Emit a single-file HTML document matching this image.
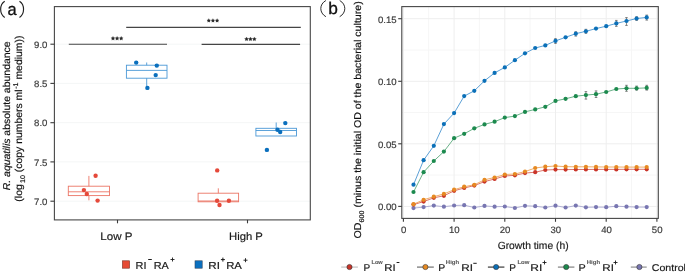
<!DOCTYPE html>
<html><head><meta charset="utf-8"><title>Figure</title>
<style>
html,body{margin:0;padding:0;background:#fff;}
body{width:685px;height:272px;overflow:hidden;}
svg{display:block;font-family:"Liberation Sans",sans-serif;text-rendering:geometricPrecision;will-change:transform;}
</style></head><body>
<svg width="685" height="272" viewBox="0 0 685 272">
<rect width="685" height="272" fill="#fff"/>

<line x1="54.4" x2="310.3" y1="201.2" y2="201.2" stroke="#f4f6f6" stroke-width="1"/>
<line x1="54.4" x2="310.3" y1="161.9" y2="161.9" stroke="#f4f6f6" stroke-width="1"/>
<line x1="54.4" x2="310.3" y1="122.7" y2="122.7" stroke="#f4f6f6" stroke-width="1"/>
<line x1="54.4" x2="310.3" y1="83.4" y2="83.4" stroke="#f4f6f6" stroke-width="1"/>
<line x1="54.4" x2="310.3" y1="44.2" y2="44.2" stroke="#f4f6f6" stroke-width="1"/>
<g stroke="#454545" stroke-width="1.1">
<line x1="68.8" x2="167" y1="44.2" y2="44.2"/>
<line x1="201.6" x2="300.1" y1="44.4" y2="44.4"/>
<line x1="126.2" x2="300.8" y1="27.4" y2="27.4"/>
</g>
<polygon points="113.00,36.35 113.68,37.52 114.99,37.80 114.09,38.81 114.23,40.15 113.00,39.60 111.76,40.15 111.90,38.81 111.00,37.80 112.32,37.52" fill="#2a2a2a" stroke="#2a2a2a" stroke-width="0.15" stroke-linejoin="round"/><polygon points="117.10,36.35 117.78,37.52 119.10,37.80 118.20,38.81 118.33,40.15 117.10,39.60 115.87,40.15 116.00,38.81 115.10,37.80 116.42,37.52" fill="#2a2a2a" stroke="#2a2a2a" stroke-width="0.15" stroke-linejoin="round"/><polygon points="121.20,36.35 121.88,37.52 123.20,37.80 122.30,38.81 122.44,40.15 121.20,39.60 119.97,40.15 120.11,38.81 119.21,37.80 120.52,37.52" fill="#2a2a2a" stroke="#2a2a2a" stroke-width="0.15" stroke-linejoin="round"/>
<polygon points="246.55,36.95 247.25,38.15 248.60,38.44 247.68,39.47 247.82,40.85 246.55,40.29 245.28,40.85 245.42,39.47 244.50,38.44 245.85,38.15" fill="#2a2a2a" stroke="#2a2a2a" stroke-width="0.15" stroke-linejoin="round"/><polygon points="250.45,36.95 251.15,38.15 252.50,38.44 251.58,39.47 251.72,40.85 250.45,40.29 249.18,40.85 249.32,39.47 248.40,38.44 249.75,38.15" fill="#2a2a2a" stroke="#2a2a2a" stroke-width="0.15" stroke-linejoin="round"/><polygon points="254.35,36.95 255.05,38.15 256.40,38.44 255.48,39.47 255.62,40.85 254.35,40.29 253.08,40.85 253.22,39.47 252.30,38.44 253.65,38.15" fill="#2a2a2a" stroke="#2a2a2a" stroke-width="0.15" stroke-linejoin="round"/>
<polygon points="208.79,18.55 209.43,19.65 210.68,19.92 209.83,20.88 209.96,22.15 208.79,21.63 207.62,22.15 207.75,20.88 206.90,19.92 208.15,19.65" fill="#2a2a2a" stroke="#2a2a2a" stroke-width="0.15" stroke-linejoin="round"/><polygon points="212.95,18.55 213.59,19.65 214.84,19.92 213.99,20.88 214.12,22.15 212.95,21.63 211.78,22.15 211.91,20.88 211.06,19.92 212.31,19.65" fill="#2a2a2a" stroke="#2a2a2a" stroke-width="0.15" stroke-linejoin="round"/><polygon points="217.11,18.55 217.75,19.65 219.00,19.92 218.15,20.88 218.28,22.15 217.11,21.63 215.94,22.15 216.07,20.88 215.22,19.92 216.47,19.65" fill="#2a2a2a" stroke="#2a2a2a" stroke-width="0.15" stroke-linejoin="round"/>
<g stroke="#ec7565" stroke-width="0.9" fill="none"><rect x="68.3" y="186.2" width="41.2" height="9.4"/><line x1="68.3" x2="109.5" y1="191.8" y2="191.8"/><line x1="88.9" x2="88.9" y1="175.9" y2="186.2"/><line x1="88.9" x2="88.9" y1="195.6" y2="200.3"/></g>
<g stroke="#4b98d6" stroke-width="0.9" fill="none"><rect x="126.4" y="65.2" width="40.6" height="13.0"/><line x1="126.4" x2="167.0" y1="70.4" y2="70.4"/><line x1="146.7" x2="146.7" y1="62.5" y2="65.2"/><line x1="146.7" x2="146.7" y1="78.2" y2="86.6"/></g>
<g stroke="#ec7565" stroke-width="0.9" fill="none"><rect x="198.1" y="193.2" width="40.5" height="8.6"/><line x1="198.1" x2="238.6" y1="201.0" y2="201.0"/><line x1="218.3" x2="218.3" y1="188.3" y2="193.2"/></g>
<g stroke="#4b98d6" stroke-width="0.9" fill="none"><rect x="255.9" y="128.3" width="40.6" height="7.7"/><line x1="255.9" x2="296.5" y1="130.5" y2="130.5"/><line x1="276.2" x2="276.2" y1="122.5" y2="128.3"/></g>
<g fill="#e5493a">
<circle cx="95.6" cy="175.8" r="2.2"/>
<circle cx="83.9" cy="190.1" r="2.2"/>
<circle cx="86.8" cy="194.0" r="2.2"/>
<circle cx="97.6" cy="200.6" r="2.2"/>
<circle cx="217.2" cy="170.4" r="2.2"/>
<circle cx="217.1" cy="200.7" r="2.2"/>
<circle cx="228.9" cy="200.7" r="2.2"/>
<circle cx="219.5" cy="205.0" r="2.2"/>
</g>
<g fill="#0a6fbd">
<circle cx="136.2" cy="62.6" r="2.2"/>
<circle cx="156.8" cy="65.6" r="2.2"/>
<circle cx="155.7" cy="75.1" r="2.2"/>
<circle cx="147.4" cy="87.9" r="2.2"/>
<circle cx="285.3" cy="123.1" r="2.2"/>
<circle cx="277.5" cy="129.8" r="2.2"/>
<circle cx="280.2" cy="132.0" r="2.2"/>
<circle cx="266.9" cy="149.9" r="2.2"/>
</g>
<rect x="54.4" y="6.6" width="255.9" height="213.3" fill="none" stroke="#474747" stroke-width="1.1"/>
<g stroke="#3a3a3a" stroke-width="1.1">
<line x1="50.4" x2="54.4" y1="201.2" y2="201.2"/>
<line x1="50.4" x2="54.4" y1="161.9" y2="161.9"/>
<line x1="50.4" x2="54.4" y1="122.7" y2="122.7"/>
<line x1="50.4" x2="54.4" y1="83.4" y2="83.4"/>
<line x1="50.4" x2="54.4" y1="44.2" y2="44.2"/>
<line x1="117.5" x2="117.5" y1="219.9" y2="223.3"/>
<line x1="247.5" x2="247.5" y1="219.9" y2="223.3"/>
</g>
<text x="34.02" y="204.80" font-size="9.3" textLength="13.42" lengthAdjust="spacingAndGlyphs" fill="#3a3a3a" stroke="#3a3a3a" stroke-width="0.18">7.0</text>
<text x="34.02" y="165.55" font-size="9.3" textLength="13.42" lengthAdjust="spacingAndGlyphs" fill="#3a3a3a" stroke="#3a3a3a" stroke-width="0.18">7.5</text>
<text x="34.07" y="126.30" font-size="9.3" textLength="13.37" lengthAdjust="spacingAndGlyphs" fill="#3a3a3a" stroke="#3a3a3a" stroke-width="0.18">8.0</text>
<text x="34.07" y="87.05" font-size="9.3" textLength="13.37" lengthAdjust="spacingAndGlyphs" fill="#3a3a3a" stroke="#3a3a3a" stroke-width="0.18">8.5</text>
<text x="34.07" y="47.80" font-size="9.3" textLength="13.37" lengthAdjust="spacingAndGlyphs" fill="#3a3a3a" stroke="#3a3a3a" stroke-width="0.18">9.0</text>
<text x="100.37" y="239.60" font-size="10.8" textLength="32.15" lengthAdjust="spacingAndGlyphs" fill="#1a1a1a" stroke="#1a1a1a" stroke-width="0.18">Low P</text>
<text x="229.00" y="239.70" font-size="10.8" textLength="33.89" lengthAdjust="spacingAndGlyphs" fill="#1a1a1a" stroke="#1a1a1a" stroke-width="0.18">High P</text>
<text transform="translate(10.40,190.30) rotate(-90)" x="-0.01" y="0" font-size="10.0" textLength="148.99" lengthAdjust="spacingAndGlyphs" fill="#111" stroke="#111" stroke-width="0.18"><tspan font-size="10.00" dy="0" font-style="italic">R. aquatilis</tspan><tspan font-size="10.00" dy="0"> absolute abundance</tspan></text>
<text transform="translate(21.90,201.30) rotate(-90)" x="-0.33" y="0" font-size="10.0" textLength="166.06" lengthAdjust="spacingAndGlyphs" fill="#111" stroke="#111" stroke-width="0.18"><tspan font-size="10.00" dy="0">(log</tspan><tspan font-size="6.80" dy="2.8" dx="1.2">10</tspan><tspan font-size="10.00" dy="-2.8"> (copy numbers ml</tspan><tspan font-size="6.80" dy="-3.8" dx="0.6">-1</tspan><tspan font-size="10.00" dy="3.8"> medium))</tspan></text>
<g stroke="#222" stroke-width="1.15" fill="none"><path d="M4.7,1.3 C-0.7,4.8 -0.7,13.9 4.7,17.4"/><path d="M19.5,1.3 C24.9,4.8 24.9,13.9 19.5,17.4"/></g>
<g stroke="#222" stroke-width="0.95" fill="none"><path d="M325.9,0.5 C319.1,4.2 319.1,12.9 325.9,16.7"/><path d="M339.7,0.5 C346.5,4.2 346.5,12.9 339.7,16.7"/></g>
<text x="7.46" y="14.60" font-size="17" textLength="9.16" lengthAdjust="spacingAndGlyphs" fill="#111" stroke="#111" stroke-width="0.3">a</text>
<text x="328.17" y="13.80" font-size="17" textLength="9.64" lengthAdjust="spacingAndGlyphs" fill="#111" stroke="#111" stroke-width="0.3">b</text>
<rect x="122.4" y="260.8" width="7.2" height="7.4" fill="#e64b35" stroke="#7a3328" stroke-width="0.6"/>
<rect x="195.0" y="260.8" width="7.2" height="7.4" fill="#0a70c0" stroke="#34455c" stroke-width="0.6"/>
<text x="135.53" y="268.60" font-size="10.1" textLength="10.91" lengthAdjust="spacingAndGlyphs" fill="#1a1a1a" stroke="#1a1a1a" stroke-width="0.18">RI</text>
<path d="M148.20,259.50H151.80" stroke="#1a1a1a" stroke-width="1.0" fill="none"/>
<text x="153.73" y="268.60" font-size="10.1" textLength="15.12" lengthAdjust="spacingAndGlyphs" fill="#1a1a1a" stroke="#1a1a1a" stroke-width="0.18">RA</text>
<path d="M170.50,259.50H174.50M172.50,257.50V261.50" stroke="#1a1a1a" stroke-width="0.9" fill="none"/>
<text x="208.27" y="268.60" font-size="10.1" textLength="11.64" lengthAdjust="spacingAndGlyphs" fill="#1a1a1a" stroke="#1a1a1a" stroke-width="0.18">RI</text>
<path d="M220.90,259.60H224.90M222.90,257.60V261.60" stroke="#1a1a1a" stroke-width="1.0" fill="none"/>
<text x="226.19" y="268.60" font-size="10.1" textLength="15.76" lengthAdjust="spacingAndGlyphs" fill="#1a1a1a" stroke="#1a1a1a" stroke-width="0.18">RA</text>
<path d="M243.50,260.20H247.50M245.50,258.20V262.20" stroke="#1a1a1a" stroke-width="0.9" fill="none"/>
<line x1="402" x2="658.3" y1="175.1" y2="175.1" stroke="#f6f6f6" stroke-width="1"/>
<line x1="402" x2="658.3" y1="112.5" y2="112.5" stroke="#f6f6f6" stroke-width="1"/>
<line x1="402" x2="658.3" y1="50.0" y2="50.0" stroke="#f6f6f6" stroke-width="1"/>
<line x1="428.7" x2="428.7" y1="6.6" y2="218.4" stroke="#f6f6f6" stroke-width="1"/>
<line x1="479.4" x2="479.4" y1="6.6" y2="218.4" stroke="#f6f6f6" stroke-width="1"/>
<line x1="530.1" x2="530.1" y1="6.6" y2="218.4" stroke="#f6f6f6" stroke-width="1"/>
<line x1="580.8" x2="580.8" y1="6.6" y2="218.4" stroke="#f6f6f6" stroke-width="1"/>
<line x1="631.5" x2="631.5" y1="6.6" y2="218.4" stroke="#f6f6f6" stroke-width="1"/>
<line x1="402" x2="658.3" y1="206.4" y2="206.4" stroke="#eeeeee" stroke-width="1"/>
<line x1="402" x2="658.3" y1="143.8" y2="143.8" stroke="#eeeeee" stroke-width="1"/>
<line x1="402" x2="658.3" y1="81.3" y2="81.3" stroke="#eeeeee" stroke-width="1"/>
<line x1="402" x2="658.3" y1="18.7" y2="18.7" stroke="#eeeeee" stroke-width="1"/>
<line x1="403.4" x2="403.4" y1="6.6" y2="218.4" stroke="#eeeeee" stroke-width="1"/>
<line x1="454.1" x2="454.1" y1="6.6" y2="218.4" stroke="#eeeeee" stroke-width="1"/>
<line x1="504.8" x2="504.8" y1="6.6" y2="218.4" stroke="#eeeeee" stroke-width="1"/>
<line x1="555.5" x2="555.5" y1="6.6" y2="218.4" stroke="#eeeeee" stroke-width="1"/>
<line x1="606.2" x2="606.2" y1="6.6" y2="218.4" stroke="#eeeeee" stroke-width="1"/>
<line x1="656.9" x2="656.9" y1="6.6" y2="218.4" stroke="#eeeeee" stroke-width="1"/>
<polyline points="413.5,208.1 423.6,207.1 433.8,205.6 443.9,206.7 454.1,205.5 464.2,205.2 474.3,207.5 484.5,205.9 494.6,206.7 504.8,206.5 514.9,208.0 525.0,205.8 535.2,206.2 545.3,207.5 555.5,205.7 565.6,207.5 575.8,205.6 585.9,207.3 596.0,207.1 606.2,207.2 616.3,206.2 626.5,206.7 636.6,207.1 646.7,207.1" fill="none" stroke="#a9a8d0" stroke-width="0.9"/>
<polyline points="413.5,204.6 423.6,201.6 433.8,197.8 443.9,195.8 454.1,190.8 464.2,188.0 474.3,185.6 484.5,181.6 494.6,179.0 504.8,176.0 514.9,175.3 525.0,173.1 535.2,172.2 545.3,170.0 555.5,169.6 565.6,169.6 575.8,169.5 585.9,169.5 596.0,169.4 606.2,169.4 616.3,169.4 626.5,169.3 636.6,169.3 646.7,169.3" fill="none" stroke="#d9675a" stroke-width="0.9"/>
<polyline points="413.5,204.2 423.6,199.8 433.8,196.7 443.9,193.9 454.1,189.7 464.2,186.7 474.3,184.8 484.5,179.8 494.6,177.5 504.8,174.5 514.9,174.0 525.0,171.6 535.2,168.0 545.3,166.7 555.5,166.0 565.6,166.7 575.8,166.8 585.9,166.8 596.0,166.9 606.2,167.0 616.3,167.0 626.5,167.1 636.6,167.1 646.7,167.1" fill="none" stroke="#eea35a" stroke-width="0.9"/>
<polyline points="413.5,192.0 423.6,172.2 433.8,161.0 443.9,151.6 454.1,138.2 464.2,133.8 474.3,128.3 484.5,124.4 494.6,121.7 504.8,117.6 514.9,116.1 525.0,111.9 535.2,109.4 545.3,106.8 555.5,100.9 565.6,98.8 575.8,96.2 585.9,95.1 596.0,94.2 606.2,92.0 616.3,89.0 626.5,88.3 636.6,88.3 646.7,87.9" fill="none" stroke="#5aa87c" stroke-width="0.9"/>
<polyline points="413.5,184.7 423.6,160.2 433.8,145.8 443.9,124.1 454.1,113.1 464.2,96.1 474.3,90.8 484.5,80.8 494.6,72.9 504.8,67.4 514.9,60.2 525.0,53.3 535.2,48.0 545.3,45.4 555.5,40.9 565.6,37.3 575.8,33.7 585.9,31.3 596.0,28.6 606.2,26.2 616.3,23.4 626.5,21.0 636.6,18.5 646.7,17.4" fill="none" stroke="#4a95d0" stroke-width="0.9"/>
<g stroke="#4a4a4a" stroke-width="0.65">
<path d="M555.47,38.7V43.4M554.17,38.7H556.77M554.17,43.4H556.77"/>
<path d="M575.76,31.8V36.1M574.46,31.8H577.06M574.46,36.1H577.06"/>
<path d="M585.90,29.3V33.3M584.60,29.3H587.20M584.60,33.3H587.20"/>
<path d="M616.32,20.4V26.35M615.02,20.4H617.62M615.02,26.35H617.62"/>
<path d="M626.47,17.6V25.4M625.17,17.6H627.77M625.17,25.4H627.77"/>
<path d="M636.61,16.7V20.4M635.31,16.7H637.91M635.31,20.4H637.91"/>
<path d="M646.75,15.1V20.1M645.45,15.1H648.05M645.45,20.1H648.05"/>
<path d="M585.90,91.6V99.1M584.60,91.6H587.20M584.60,99.1H587.20"/>
<path d="M596.04,90.9V97.5M594.74,90.9H597.34M594.74,97.5H597.34"/>
<path d="M626.47,85.3V91.3M625.17,85.3H627.77M625.17,91.3H627.77"/>
<path d="M636.61,86.1V90.1M635.31,86.1H637.91M635.31,90.1H637.91"/>
<path d="M646.75,85.3V90.1M645.45,85.3H648.05M645.45,90.1H648.05"/>
</g>
<g fill="#7876b1"><circle cx="413.5" cy="208.1" r="2.1"/><circle cx="423.6" cy="207.1" r="2.1"/><circle cx="433.8" cy="205.6" r="2.1"/><circle cx="443.9" cy="206.7" r="2.1"/><circle cx="454.1" cy="205.5" r="2.1"/><circle cx="464.2" cy="205.2" r="2.1"/><circle cx="474.3" cy="207.5" r="2.1"/><circle cx="484.5" cy="205.9" r="2.1"/><circle cx="494.6" cy="206.7" r="2.1"/><circle cx="504.8" cy="206.5" r="2.1"/><circle cx="514.9" cy="208.0" r="2.1"/><circle cx="525.0" cy="205.8" r="2.1"/><circle cx="535.2" cy="206.2" r="2.1"/><circle cx="545.3" cy="207.5" r="2.1"/><circle cx="555.5" cy="205.7" r="2.1"/><circle cx="565.6" cy="207.5" r="2.1"/><circle cx="575.8" cy="205.6" r="2.1"/><circle cx="585.9" cy="207.3" r="2.1"/><circle cx="596.0" cy="207.1" r="2.1"/><circle cx="606.2" cy="207.2" r="2.1"/><circle cx="616.3" cy="206.2" r="2.1"/><circle cx="626.5" cy="206.7" r="2.1"/><circle cx="636.6" cy="207.1" r="2.1"/><circle cx="646.7" cy="207.1" r="2.1"/></g>
<g fill="#c9352a"><circle cx="413.5" cy="204.6" r="2.1"/><circle cx="423.6" cy="201.6" r="2.1"/><circle cx="433.8" cy="197.8" r="2.1"/><circle cx="443.9" cy="195.8" r="2.1"/><circle cx="454.1" cy="190.8" r="2.1"/><circle cx="464.2" cy="188.0" r="2.1"/><circle cx="474.3" cy="185.6" r="2.1"/><circle cx="484.5" cy="181.6" r="2.1"/><circle cx="494.6" cy="179.0" r="2.1"/><circle cx="504.8" cy="176.0" r="2.1"/><circle cx="514.9" cy="175.3" r="2.1"/><circle cx="525.0" cy="173.1" r="2.1"/><circle cx="535.2" cy="172.2" r="2.1"/><circle cx="545.3" cy="170.0" r="2.1"/><circle cx="555.5" cy="169.6" r="2.1"/><circle cx="565.6" cy="169.6" r="2.1"/><circle cx="575.8" cy="169.5" r="2.1"/><circle cx="585.9" cy="169.5" r="2.1"/><circle cx="596.0" cy="169.4" r="2.1"/><circle cx="606.2" cy="169.4" r="2.1"/><circle cx="616.3" cy="169.4" r="2.1"/><circle cx="626.5" cy="169.3" r="2.1"/><circle cx="636.6" cy="169.3" r="2.1"/><circle cx="646.7" cy="169.3" r="2.1"/></g>
<g fill="#e68a22"><circle cx="413.5" cy="204.2" r="2.1"/><circle cx="423.6" cy="199.8" r="2.1"/><circle cx="433.8" cy="196.7" r="2.1"/><circle cx="443.9" cy="193.9" r="2.1"/><circle cx="454.1" cy="189.7" r="2.1"/><circle cx="464.2" cy="186.7" r="2.1"/><circle cx="474.3" cy="184.8" r="2.1"/><circle cx="484.5" cy="179.8" r="2.1"/><circle cx="494.6" cy="177.5" r="2.1"/><circle cx="504.8" cy="174.5" r="2.1"/><circle cx="514.9" cy="174.0" r="2.1"/><circle cx="525.0" cy="171.6" r="2.1"/><circle cx="535.2" cy="168.0" r="2.1"/><circle cx="545.3" cy="166.7" r="2.1"/><circle cx="555.5" cy="166.0" r="2.1"/><circle cx="565.6" cy="166.7" r="2.1"/><circle cx="575.8" cy="166.8" r="2.1"/><circle cx="585.9" cy="166.8" r="2.1"/><circle cx="596.0" cy="166.9" r="2.1"/><circle cx="606.2" cy="167.0" r="2.1"/><circle cx="616.3" cy="167.0" r="2.1"/><circle cx="626.5" cy="167.1" r="2.1"/><circle cx="636.6" cy="167.1" r="2.1"/><circle cx="646.7" cy="167.1" r="2.1"/></g>
<g fill="#1c8a4e"><circle cx="413.5" cy="192.0" r="2.1"/><circle cx="423.6" cy="172.2" r="2.1"/><circle cx="433.8" cy="161.0" r="2.1"/><circle cx="443.9" cy="151.6" r="2.1"/><circle cx="454.1" cy="138.2" r="2.1"/><circle cx="464.2" cy="133.8" r="2.1"/><circle cx="474.3" cy="128.3" r="2.1"/><circle cx="484.5" cy="124.4" r="2.1"/><circle cx="494.6" cy="121.7" r="2.1"/><circle cx="504.8" cy="117.6" r="2.1"/><circle cx="514.9" cy="116.1" r="2.1"/><circle cx="525.0" cy="111.9" r="2.1"/><circle cx="535.2" cy="109.4" r="2.1"/><circle cx="545.3" cy="106.8" r="2.1"/><circle cx="555.5" cy="100.9" r="2.1"/><circle cx="565.6" cy="98.8" r="2.1"/><circle cx="575.8" cy="96.2" r="2.1"/><circle cx="585.9" cy="95.1" r="2.1"/><circle cx="596.0" cy="94.2" r="2.1"/><circle cx="606.2" cy="92.0" r="2.1"/><circle cx="616.3" cy="89.0" r="2.1"/><circle cx="626.5" cy="88.3" r="2.1"/><circle cx="636.6" cy="88.3" r="2.1"/><circle cx="646.7" cy="87.9" r="2.1"/></g>
<g fill="#0b70b8"><circle cx="413.5" cy="184.7" r="2.1"/><circle cx="423.6" cy="160.2" r="2.1"/><circle cx="433.8" cy="145.8" r="2.1"/><circle cx="443.9" cy="124.1" r="2.1"/><circle cx="454.1" cy="113.1" r="2.1"/><circle cx="464.2" cy="96.1" r="2.1"/><circle cx="474.3" cy="90.8" r="2.1"/><circle cx="484.5" cy="80.8" r="2.1"/><circle cx="494.6" cy="72.9" r="2.1"/><circle cx="504.8" cy="67.4" r="2.1"/><circle cx="514.9" cy="60.2" r="2.1"/><circle cx="525.0" cy="53.3" r="2.1"/><circle cx="535.2" cy="48.0" r="2.1"/><circle cx="545.3" cy="45.4" r="2.1"/><circle cx="555.5" cy="40.9" r="2.1"/><circle cx="565.6" cy="37.3" r="2.1"/><circle cx="575.8" cy="33.7" r="2.1"/><circle cx="585.9" cy="31.3" r="2.1"/><circle cx="596.0" cy="28.6" r="2.1"/><circle cx="606.2" cy="26.2" r="2.1"/><circle cx="616.3" cy="23.4" r="2.1"/><circle cx="626.5" cy="21.0" r="2.1"/><circle cx="636.6" cy="18.5" r="2.1"/><circle cx="646.7" cy="17.4" r="2.1"/></g>
<rect x="401.8" y="6.6" width="256.5" height="211.8" fill="none" stroke="#474747" stroke-width="1.1"/>
<g stroke="#3a3a3a" stroke-width="1.1">
<line x1="398.2" x2="401.8" y1="206.4" y2="206.4"/>
<line x1="398.2" x2="401.8" y1="143.8" y2="143.8"/>
<line x1="398.2" x2="401.8" y1="81.3" y2="81.3"/>
<line x1="398.2" x2="401.8" y1="18.7" y2="18.7"/>
<line x1="403.4" x2="403.4" y1="218.4" y2="221.8"/>
<line x1="454.1" x2="454.1" y1="218.4" y2="221.8"/>
<line x1="504.8" x2="504.8" y1="218.4" y2="221.8"/>
<line x1="555.5" x2="555.5" y1="218.4" y2="221.8"/>
<line x1="606.2" x2="606.2" y1="218.4" y2="221.8"/>
<line x1="656.9" x2="656.9" y1="218.4" y2="221.8"/>
</g>
<text x="396.60" y="210.46" font-size="9.3" textLength="18.64" lengthAdjust="spacingAndGlyphs" text-anchor="end" fill="#3a3a3a" stroke="#3a3a3a" stroke-width="0.18">0.00</text>
<text x="396.60" y="147.91" font-size="9.3" textLength="18.64" lengthAdjust="spacingAndGlyphs" text-anchor="end" fill="#3a3a3a" stroke="#3a3a3a" stroke-width="0.18">0.05</text>
<text x="396.60" y="85.35" font-size="9.3" textLength="18.64" lengthAdjust="spacingAndGlyphs" text-anchor="end" fill="#3a3a3a" stroke="#3a3a3a" stroke-width="0.18">0.10</text>
<text x="396.60" y="22.80" font-size="9.3" textLength="18.64" lengthAdjust="spacingAndGlyphs" text-anchor="end" fill="#3a3a3a" stroke="#3a3a3a" stroke-width="0.18">0.15</text>
<text x="403.65" y="232.80" font-size="9.3" textLength="5.33" lengthAdjust="spacingAndGlyphs" text-anchor="middle" fill="#3a3a3a" stroke="#3a3a3a" stroke-width="0.18">0</text>
<text x="454.36" y="232.80" font-size="9.3" textLength="10.66" lengthAdjust="spacingAndGlyphs" text-anchor="middle" fill="#3a3a3a" stroke="#3a3a3a" stroke-width="0.18">10</text>
<text x="505.07" y="232.80" font-size="9.3" textLength="10.66" lengthAdjust="spacingAndGlyphs" text-anchor="middle" fill="#3a3a3a" stroke="#3a3a3a" stroke-width="0.18">20</text>
<text x="555.77" y="232.80" font-size="9.3" textLength="10.66" lengthAdjust="spacingAndGlyphs" text-anchor="middle" fill="#3a3a3a" stroke="#3a3a3a" stroke-width="0.18">30</text>
<text x="606.48" y="232.80" font-size="9.3" textLength="10.66" lengthAdjust="spacingAndGlyphs" text-anchor="middle" fill="#3a3a3a" stroke="#3a3a3a" stroke-width="0.18">40</text>
<text x="657.19" y="232.80" font-size="9.3" textLength="10.66" lengthAdjust="spacingAndGlyphs" text-anchor="middle" fill="#3a3a3a" stroke="#3a3a3a" stroke-width="0.18">50</text>
<text x="497.69" y="248.50" font-size="10.4" textLength="70.89" lengthAdjust="spacingAndGlyphs" fill="#1a1a1a" stroke="#1a1a1a" stroke-width="0.18">Growth time (h)</text>
<text transform="translate(361.20,238.30) rotate(-90)" x="-0.18" y="0" font-size="9.9" textLength="237.17" lengthAdjust="spacingAndGlyphs" fill="#111" stroke="#111" stroke-width="0.18"><tspan font-size="9.90" dy="0">OD</tspan><tspan font-size="6.73" dy="2.6">600</tspan><tspan font-size="9.90" dy="-2.6"> (minus the initial OD of the bacterial culture)</tspan></text>
<line x1="341.2" x2="357.9" y1="267.1" y2="267.1" stroke="#c8c8c8" stroke-width="1.3"/>
<circle cx="349.5" cy="267.0" r="2.6" fill="#c9352a" stroke="#333" stroke-width="0.6"/>
<line x1="417.0" x2="433.8" y1="267.1" y2="267.1" stroke="#7a7a7a" stroke-width="1.3"/>
<circle cx="425.4" cy="267.0" r="2.6" fill="#e68a22" stroke="#333" stroke-width="0.6"/>
<line x1="487.9" x2="504.4" y1="267.1" y2="267.1" stroke="#4a4a4a" stroke-width="1.3"/>
<circle cx="496.1" cy="267.0" r="2.6" fill="#0b70b8" stroke="#333" stroke-width="0.6"/>
<line x1="557.9" x2="574.4" y1="267.1" y2="267.1" stroke="#8a8a8a" stroke-width="1.3"/>
<circle cx="566.2" cy="267.0" r="2.6" fill="#1c8a4e" stroke="#333" stroke-width="0.6"/>
<line x1="630.8" x2="646.7" y1="267.1" y2="267.1" stroke="#9a9a9a" stroke-width="1.3"/>
<circle cx="639.4" cy="267.0" r="2.6" fill="#7876b1" stroke="#333" stroke-width="0.6"/>
<text x="363.49" y="270.50" font-size="9.8" textLength="6.73" lengthAdjust="spacingAndGlyphs" fill="#1a1a1a" stroke="#1a1a1a" stroke-width="0.18">P</text>
<text x="371.43" y="264.00" font-size="5.6" textLength="11.33" lengthAdjust="spacingAndGlyphs" fill="#5c5c5c" font-weight="bold" stroke="#5c5c5c" stroke-width="0.1">Low</text>
<text x="384.39" y="270.50" font-size="9.8" textLength="11.39" lengthAdjust="spacingAndGlyphs" fill="#1a1a1a" stroke="#1a1a1a" stroke-width="0.18">RI</text>
<path d="M396.60,262.50H399.40" stroke="#1a1a1a" stroke-width="1.0" fill="none"/>
<text x="438.26" y="270.50" font-size="9.8" textLength="6.98" lengthAdjust="spacingAndGlyphs" fill="#1a1a1a" stroke="#1a1a1a" stroke-width="0.18">P</text>
<text x="445.81" y="264.00" font-size="5.6" textLength="13.36" lengthAdjust="spacingAndGlyphs" fill="#5c5c5c" font-weight="bold" stroke="#5c5c5c" stroke-width="0.1">High</text>
<text x="461.16" y="270.50" font-size="9.8" textLength="11.76" lengthAdjust="spacingAndGlyphs" fill="#1a1a1a" stroke="#1a1a1a" stroke-width="0.18">RI</text>
<path d="M473.30,263.30H476.70" stroke="#1a1a1a" stroke-width="1.0" fill="none"/>
<text x="509.39" y="270.50" font-size="9.8" textLength="6.73" lengthAdjust="spacingAndGlyphs" fill="#1a1a1a" stroke="#1a1a1a" stroke-width="0.18">P</text>
<text x="517.41" y="264.00" font-size="5.6" textLength="11.99" lengthAdjust="spacingAndGlyphs" fill="#5c5c5c" font-weight="bold" stroke="#5c5c5c" stroke-width="0.1">Low</text>
<text x="530.34" y="270.50" font-size="9.8" textLength="12.00" lengthAdjust="spacingAndGlyphs" fill="#1a1a1a" stroke="#1a1a1a" stroke-width="0.18">RI</text>
<path d="M542.50,262.50H546.50M544.50,260.50V264.50" stroke="#1a1a1a" stroke-width="0.9" fill="none"/>
<text x="578.53" y="270.50" font-size="9.8" textLength="7.23" lengthAdjust="spacingAndGlyphs" fill="#1a1a1a" stroke="#1a1a1a" stroke-width="0.18">P</text>
<text x="586.71" y="264.00" font-size="5.6" textLength="13.36" lengthAdjust="spacingAndGlyphs" fill="#5c5c5c" font-weight="bold" stroke="#5c5c5c" stroke-width="0.1">High</text>
<text x="602.37" y="270.50" font-size="9.8" textLength="11.64" lengthAdjust="spacingAndGlyphs" fill="#1a1a1a" stroke="#1a1a1a" stroke-width="0.18">RI</text>
<path d="M613.50,262.50H617.50M615.50,260.50V264.50" stroke="#1a1a1a" stroke-width="0.9" fill="none"/>
<text x="651.77" y="270.50" font-size="9.8" textLength="34.16" lengthAdjust="spacingAndGlyphs" fill="#1a1a1a" stroke="#1a1a1a" stroke-width="0.18">Control</text>
</svg></body></html>
